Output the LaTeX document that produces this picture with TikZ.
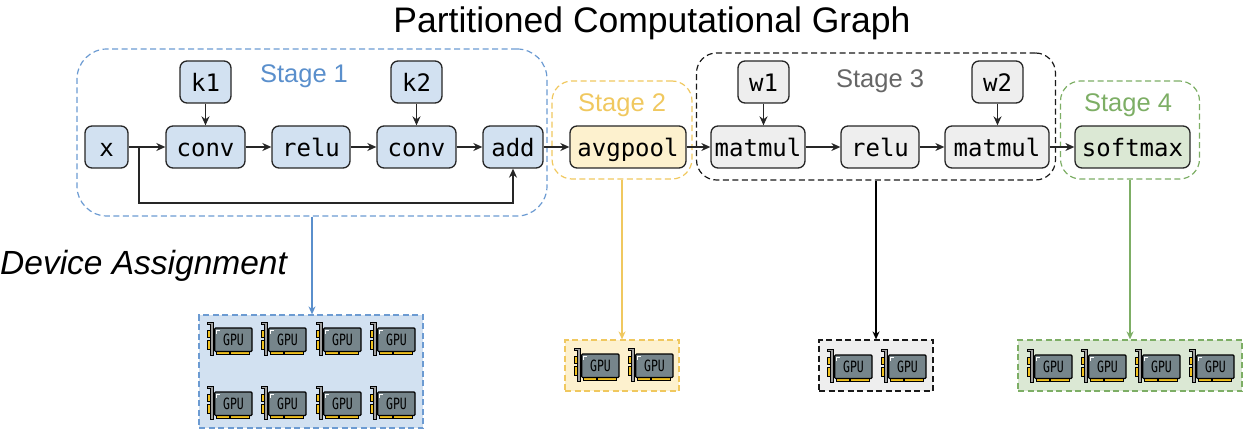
\documentclass[tikz,border=0pt]{standalone}
\usepackage{fontspec}
\setmainfont{Liberation Sans}
\setmonofont{DejaVu Sans Mono}
\usetikzlibrary{arrows.meta}
\definecolor{blueline}{HTML}{6C9BD2}
\definecolor{bluetext}{HTML}{5A8FCC}
\definecolor{bluefill}{HTML}{D2E1F1}
\definecolor{yellowline}{HTML}{F0C85F}
\definecolor{yellowfill}{HTML}{FDF1CE}
\definecolor{grayfill}{HTML}{EEEEEE}
\definecolor{greenline}{HTML}{7DAE65}
\definecolor{greenfill}{HTML}{DBE8D4}
\definecolor{gpuboard}{HTML}{76858B}
\definecolor{gputab}{HTML}{F2C21F}
\tikzset{
	op/.style={draw=black!85, line width=1.3pt, rounded corners=7pt, inner sep=0pt, minimum height=42pt,
		text height=20pt, text depth=0pt, font=\ttfamily\fontsize{24}{28}\selectfont},
	stagebox/.style={line width=1.2pt, dash pattern=on 6pt off 3.5pt, rounded corners=#1, inner sep=0pt},
	devicebox/.style={line width=1.2pt, dash pattern=on 6pt off 3.5pt, inner sep=0pt},
	stagetext/.style={anchor=base, inner sep=0pt, font=\fontsize{25.5}{30}\selectfont},
	flow/.style={black!85, line width=1.3pt, -{Stealth[length=9pt,width=8pt]}},
	assign/.style={line width=1.3pt, -{Stealth[length=8pt,width=7pt]}},
	gpu/.pic={
		\draw[black, line width=.9pt, fill=gputab] (0,8.3) rectangle (3,15);
		\draw[black, line width=.9pt, fill=gputab] (0,18.3) rectangle (3,27);
		\draw[black, line width=.9pt, fill=gputab] (9.5,28) rectangle (22,32.5);
		\draw[black, line width=.9pt, fill=gputab] (23.5,28) rectangle (42.5,32.5);
		\draw[black, line width=1.1pt, fill=gpuboard, rounded corners=1pt] (7.7,6) rectangle (45,29.5);
		\draw[black, line width=.9pt, fill=gray!75] (.5,0) -- (6.7,0) -- (6.7,33) -- (3.5,33) -- (3.5,2.5) -- (.5,2.5) -- cycle;
		\draw[white, line width=1pt] (12.5,8.8) -- (9.6,8.8) -- (9.6,11.5);
		\node[inner sep=0pt, yscale=1.35, font=\ttfamily\fontsize{11.5}{13}\selectfont, text=black] (-label) at (26.5,18) {GPU};
	}
}
\begin{document}
\begin{tikzpicture}[x=1pt, y=-1pt]
	\useasboundingbox (0,0) rectangle (1252,438);
	\node[anchor=base, inner sep=0pt, font=\fontsize{35.5}{40}\selectfont] (title) at (652,32.5) {Partitioned Computational Graph};
	\node[anchor=base west, inner sep=0pt, font=\itshape\fontsize{33.5}{38}\selectfont] (devtitle) at (0,274) {Device Assignment};

	\node[stagebox=30pt, draw=blueline, minimum width=470pt, minimum height=167pt] (stage1) at (312,132.5) {};
	\node[stagebox=20pt, draw=yellowline, minimum width=140pt, minimum height=98pt] (stage2) at (622,130) {};
	\node[stagebox=20pt, draw=black!90, minimum width=359pt, minimum height=127pt] (stage3) at (876,116.5) {};
	\node[stagebox=20pt, draw=greenline, minimum width=139pt, minimum height=98pt] (stage4) at (1130,130) {};

	\node[stagetext, text=bluetext] (text1) at (304,83) {Stage 1};
	\node[stagetext, text=yellowline] (text2) at (622,112) {Stage 2};
	\node[stagetext, text=black!60] (text3) at (880,88) {Stage 3};
	\node[stagetext, text=greenline] (text4) at (1128,112) {Stage 4};

	\node[devicebox, draw=blueline, fill=bluefill, minimum width=224pt, minimum height=113pt] (device1) at (311,371.5) {};
	\node[devicebox, draw=yellowline, fill=yellowfill, minimum width=114pt, minimum height=51pt] (device2) at (622,365.5) {};
	\node[devicebox, draw=black!90, fill=grayfill, minimum width=114pt, minimum height=51pt] (device3) at (876,365.5) {};
	\node[devicebox, draw=greenline, fill=greenfill, minimum width=224pt, minimum height=51pt] (device4) at (1130,365.5) {};

	\foreach \i/\gx in {1/207,2/261,3/316,4/370} {
		\pic (top\i) at (\gx,322) {gpu};
		\pic (low\i) at (\gx,386) {gpu};
	}
	\foreach \i/\gx in {1/574,2/628} \pic (yel\i) at (\gx,348) {gpu};
	\foreach \i/\gx in {1/827,2/881} \pic (gra\i) at (\gx,349) {gpu};
	\foreach \i/\gx in {1/1027,2/1081,3/1135,4/1189} \pic (gre\i) at (\gx,349) {gpu};

	\node[op, fill=bluefill, minimum width=43pt] (x) at (106.5,147) {x};
	\node[op, fill=bluefill, minimum width=79pt] (conv1) at (205.5,147) {conv};
	\node[op, fill=bluefill, minimum width=78pt] (relu1) at (311,147) {relu};
	\node[op, fill=bluefill, minimum width=79pt] (conv2) at (416.5,147) {conv};
	\node[op, fill=bluefill, minimum width=60pt] (add) at (513,147) {add};
	\node[op, fill=bluefill, minimum width=51pt] (k1) at (205.5,82) {k1};
	\node[op, fill=bluefill, minimum width=51pt] (k2) at (416.5,82) {k2};
	\node[op, fill=yellowfill, minimum width=116pt] (avgpool) at (628,147) {avgpool};
	\node[op, fill=grayfill, minimum width=94pt] (matmul1) at (758,147) {matmul};
	\node[op, fill=grayfill, minimum width=78pt] (relu2) at (880,147) {relu};
	\node[op, fill=grayfill, minimum width=104pt] (matmul2) at (997,147) {matmul};
	\node[op, fill=grayfill, minimum width=51pt] (w1) at (763.5,82) {w1};
	\node[op, fill=grayfill, minimum width=51pt] (w2) at (997.5,82) {w2};
	\node[op, fill=greenfill, minimum width=115pt] (softmax) at (1132.5,147) {softmax};

	\coordinate (skip) at (139,147);
	\coordinate (skipdown) at (139,203);
	\draw[flow] (x) -- (conv1);
	\draw[flow] (conv1) -- (relu1);
	\draw[flow] (relu1) -- (conv2);
	\draw[flow] (conv2) -- (add);
	\draw[flow] (add) -- (avgpool);
	\draw[flow] (avgpool) -- (matmul1);
	\draw[flow] (matmul1) -- (relu2);
	\draw[flow] (relu2) -- (matmul2);
	\draw[flow] (matmul2) -- (softmax);
	\draw[flow] (k1) -- (conv1);
	\draw[flow] (k2) -- (conv2);
	\draw[flow] (w1) -- (matmul1.north -| w1);
	\draw[flow] (w2) -- (matmul2.north -| w2);
	\draw[flow] (skip) -- (skipdown) -| (add);

	\draw[assign, bluetext] (stage1.south) -- (device1.north -| stage1.south);
	\draw[assign, yellowline] (stage2.south) -- (device2.north);
	\draw[assign, black] (stage3.south) -- (device3.north);
	\draw[assign, greenline] (stage4.south) -- (device4.north);
\end{tikzpicture}
\end{document}
